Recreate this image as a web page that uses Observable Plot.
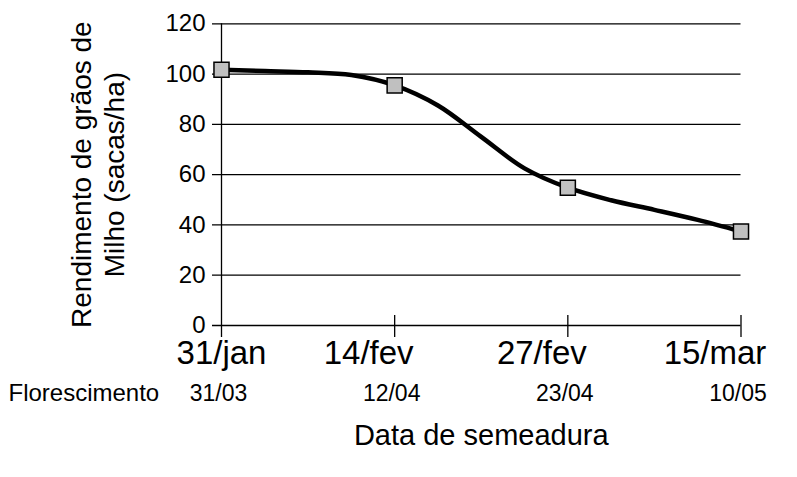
<!DOCTYPE html>
<html>
<head>
<meta charset="utf-8">
<script src="https://cdn.jsdelivr.net/npm/d3@7"></script>
<script src="https://cdn.jsdelivr.net/npm/@observablehq/plot@0.6"></script>
<style>
  html, body { margin: 0; padding: 0; background: #fff; }
  #chart { width: 797px; height: 477px; }
</style>
</head>
<body>
<div id="chart"></div>
<script>
// Sowing dates (categories) and flowering dates
const categories = ["31/jan", "14/fev", "27/fev", "15/mar"];
const flowering = ["31/03", "12/04", "23/04", "10/05"];
const rowLabel = "Florescimento";
const xTitle = "Data de semeadura";
const yTitle = "Rendimento de grãos de\nMilho (sacas/ha)";
const yTicks = [0, 20, 40, 60, 80, 100, 120];

// Marker values (sacas/ha) at each sowing date
const markerValues = [101.7, 95.5, 54.8, 37.4];

// Smoothed line (position in category units, value)
const linePos  = [0, 0.25, 0.5, 0.75, 1, 1.25, 1.5, 1.75, 2, 2.25, 2.5, 2.75, 3];
const lineVals = [101.7, 101.2, 100.7, 99.6, 95.5, 87.5, 75, 62.5, 54.8, 49.8, 46, 42, 37.4];

const markerData = markerValues.map((v, i) => ({x: i, y: v}));
const lineData = linePos.map((p, i) => ({x: p, y: lineVals[i]}));
const catIdx = categories.map((c, i) => i);

const chart = Plot.plot({
  width: 797,
  height: 477,
  marginLeft: 221,
  marginRight: 56.5,
  marginTop: 23.3,
  marginBottom: 152,
  style: {fontFamily: "'Liberation Sans', Arial, sans-serif", fontSize: "24px", color: "#000", background: "#fff"},
  x: {domain: [0, 3], axis: null},
  y: {domain: [0, 120], axis: null},
  marks: [
    // gridlines (extend left as tick marks)
    Plot.ruleY(yTicks, {y: d => d, x1: 0, x2: 3, insetLeft: -9, stroke: "#000", strokeWidth: 1.3}),
    // vertical axis line
    Plot.ruleX([0], {x: d => d, y1: 120, y2: 0, insetBottom: -12, stroke: "#000", strokeWidth: 1.3}),
    // x tick marks crossing the baseline
    Plot.ruleX(catIdx.slice(1), {x: d => d, y1: 0, y2: 0, insetTop: -10, insetBottom: -12, stroke: "#000", strokeWidth: 1.3}),
    Plot.axisY({ticks: yTicks, tickSize: 0, tickPadding: 16, fontSize: 24, label: null}),
    // sowing-date labels: the first sits under its tick, the others slightly left of theirs
    Plot.text(categories.slice(0, 1), {x: (d, i) => i, text: d => d, frameAnchor: "bottom", dy: 38, fontSize: 33}),
    Plot.text(categories.slice(1), {x: (d, i) => i + 1, text: d => d, frameAnchor: "bottom", dx: -26, dy: 38, fontSize: 33}),
    Plot.line(lineData, {x: "x", y: "y", curve: "catmull-rom", stroke: "#000", strokeWidth: 4.5}),
    Plot.dot(markerData, {x: "x", y: "y", symbol: "square", r: 8.5, fill: "#c0c0c0", stroke: "#000", strokeWidth: 1.5}),
    Plot.text(flowering, {x: (d, i) => i, text: d => d, frameAnchor: "bottom", dx: -3, dy: 75, fontSize: 23}),
    Plot.text([rowLabel], {text: d => d, frameAnchor: "bottom-left", textAnchor: "start", dx: -213, dy: 75, fontSize: 24}),
    Plot.text([xTitle], {text: d => d, frameAnchor: "bottom", dy: 119, fontSize: 29}),
    Plot.text([yTitle], {text: d => d, frameAnchor: "left", textAnchor: "middle", rotate: -90, dx: -124.5, lineHeight: 1.18, fontSize: 28})
  ]
});
document.getElementById("chart").appendChild(chart);
</script>
</body>
</html>
